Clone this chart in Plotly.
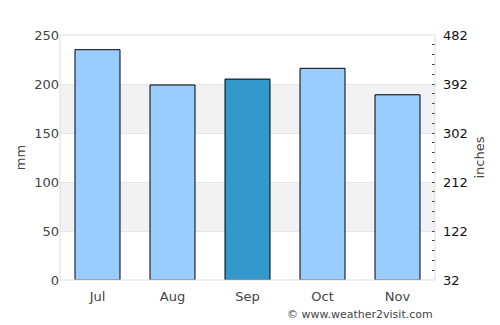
import plotly.graph_objects as go

months = ["Jul", "Aug", "Sep", "Oct", "Nov"]
rain_mm = [235, 199, 205, 216, 189]
colors = ["#99ccff", "#99ccff", "#3399cc", "#99ccff", "#99ccff"]
left_ticks = [0, 50, 100, 150, 200, 250]
right_ticks = [32, 122, 212, 302, 392, 482]

fig = go.Figure()
fig.add_trace(go.Bar(x=months, y=rain_mm, marker=dict(color=colors, line=dict(color="#000000", width=1)),
                     width=0.6, showlegend=False, hoverinfo="skip"))
fig.add_trace(go.Scatter(x=months, y=[None]*5, yaxis="y2", showlegend=False, hoverinfo="skip"))

shapes = []
for lo, hi in [(50, 100), (150, 200)]:
    shapes.append(dict(type="rect", xref="paper", yref="y", x0=0, x1=1, y0=lo, y1=hi,
                       fillcolor="#f2f2f2", line=dict(width=0), layer="below"))
shapes.append(dict(type="rect", xref="paper", yref="paper", x0=0, x1=1, y0=0, y1=1,
                   line=dict(color="#dddddd", width=1), layer="above"))

font = dict(family="DejaVu Sans", size=13, color="#444444")
fig.update_layout(
    width=500, height=325, margin=dict(l=60, r=65, t=35, b=45),
    paper_bgcolor="white", plot_bgcolor="white", font=font,
    shapes=shapes, bargap=0.4,
    xaxis=dict(showgrid=False, showline=False, ticks="", ticklabelstandoff=7,
               tickfont=dict(size=13, color="#444444")),
    yaxis=dict(range=[0, 250], tickvals=left_ticks, showgrid=True, gridcolor="#e6e6e6", zeroline=False,
               showline=False, title=dict(text="mm", font=dict(size=13, color="#444444"), standoff=5),
               ticks="", tickfont=dict(color="#444444")),
    yaxis2=dict(range=[32, 482], tickvals=right_ticks, overlaying="y", side="right", showgrid=False,
                zeroline=False, showline=False, ticks="inside", ticklen=3, tickcolor="#444444",
                ticklabelstandoff=7,
                minor=dict(dtick=18, tick0=32, ticks="inside", ticklen=3, tickcolor="#444444", showgrid=False),
                title=dict(text="inches", font=dict(size=13, color="#444444"), standoff=8),
                tickfont=dict(color="#111111")),
    annotations=[dict(text="© www.weather2visit.com", xref="paper", yref="paper", x=1, y=-0.105,
                      xanchor="right", yanchor="top", showarrow=False,
                      font=dict(size=11, color="#444444"))],
)
fig.write_html("out.html")
